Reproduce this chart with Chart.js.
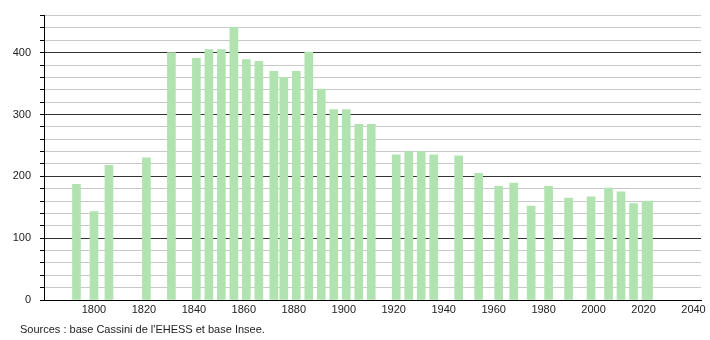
<!DOCTYPE html>
<html>
<head>
<meta charset="utf-8">
<script src="https://cdn.jsdelivr.net/npm/chart.js@4"></script>
<style>
  body { margin: 0; background: #fff; }
  #wrap { position: relative; width: 710px; height: 340px; }
  #source {
    position: absolute; left: 20px; top: 323px;
    font: 11px "Liberation Sans", Arial, sans-serif; color: #222;
  }
</style>
</head>
<body>
<div id="wrap">
  <canvas id="popChart" width="710" height="340"></canvas>
  <div id="source">Sources : base Cassini de l'EHESS et base Insee.</div>
</div>
<script>
// Population by census year
const years = [1793, 1800, 1806, 1821, 1831, 1841, 1846, 1851, 1856, 1861, 1866, 1872, 1876,
  1881, 1886, 1891, 1896, 1901, 1906, 1911, 1921, 1926, 1931, 1936, 1946, 1954, 1962,
  1968, 1975, 1982, 1990, 1999, 2006, 2011, 2016, 2021, 2022];
const population = [187, 143, 218, 230, 400, 391, 405, 405, 441, 389, 386, 370, 360,
  370, 401, 341, 308, 308, 284, 284, 235, 240, 240, 235, 233, 205, 184,
  189, 152, 184, 165, 167, 181, 175, 156, 159, 160];

const barColor = '#b1e3b1';
const fontSpec = { family: '"Liberation Sans", Arial, sans-serif', size: 11 };

const points = years.map((y, i) => ({ x: y, y: population[i] }));

const ctx = document.getElementById('popChart').getContext('2d');
const popChart = new Chart(ctx, {
    type: 'bar',
    data: {
        datasets: [{
            data: points,
            backgroundColor: barColor,
            barThickness: 8
        }]
    },
    options: {
        responsive: false,
        animation: false,
        layout: { padding: { top: 10, right: 9, left: 0, bottom: 0 } },
        plugins: {
            legend: { display: false },
            tooltip: { enabled: false }
        },
        scales: {
            x: {
                type: 'linear',
                min: 1780,
                max: 2043,
                offset: false,
                grid: { display: false, drawTicks: false, tickLength: 0 },
                border: { display: true, color: '#000', width: 1 },
                ticks: {
                    stepSize: 20,
                    includeBounds: false,
                    autoSkip: false,
                    maxRotation: 0,
                    padding: 3,
                    color: '#222',
                    font: fontSpec,
                    callback: v => (v >= 1800 ? String(v) : '')
                },
                afterFit: axis => { axis.height = 40; }
            },
            y: {
                min: 0,
                max: 460,
                grid: {
                    color: c => (c.tick && c.tick.value % 100 === 0 ? '#333' : '#c8c8c8'),
                    tickColor: '#000',
                    tickLength: 4
                },
                border: { display: true, color: '#000', width: 1 },
                ticks: {
                    stepSize: 20,
                    autoSkip: false,
                    padding: 9,
                    color: '#222',
                    font: fontSpec,
                    callback: v => (v % 100 === 0 ? String(v) : '')
                },
                afterFit: axis => { axis.width = 44; }
            }
        }
    }
});
</script>
</body>
</html>
